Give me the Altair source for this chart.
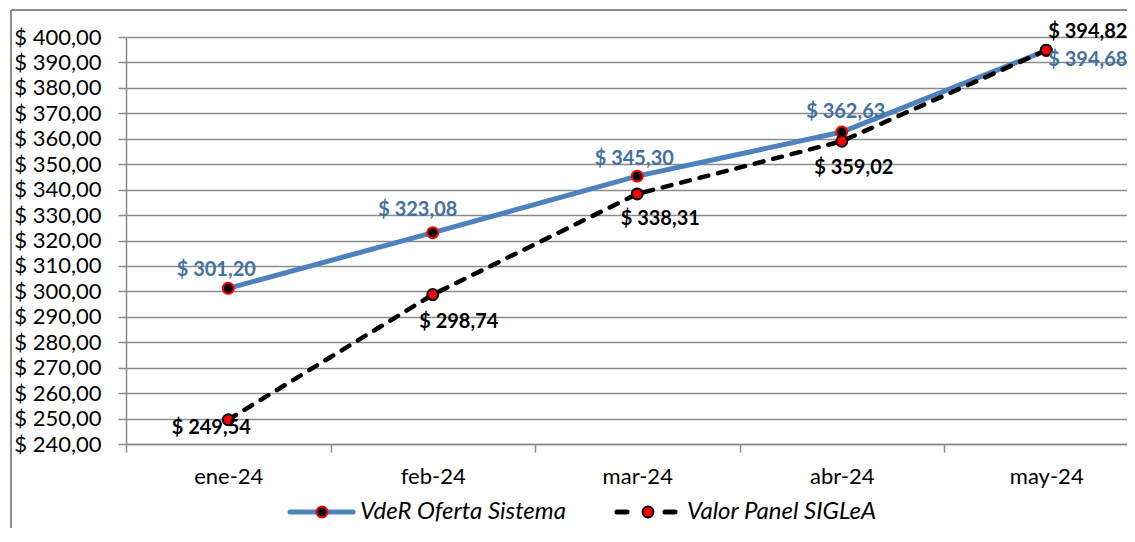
import json
import altair as alt
import pandas as pd

# ---- data ----
months = ["ene-24", "feb-24", "mar-24", "abr-24", "may-24"]
vder = [301.20, 323.08, 345.30, 362.63, 394.68]
panel = [249.54, 298.74, 338.31, 359.02, 394.82]
series_names = ["VdeR Oferta Sistema", "Valor Panel SIGLeA"]
y_ticks = list(range(240, 401, 10))

# ---- layout / style ----
W, H = 1001, 407
UNIT = 204.5
XMAX = -0.5 + W / UNIT
GRID = "#8c8c8c"
BLUE = "#4F81BD"
BLUE_TXT = "#44719F"
FONT = "Lato"

df = pd.DataFrame({"idx": list(range(len(months))), "mes": months,
                   "vder": vder, "panel": panel})

fmt = lambda f: "'$ ' + replace(format(datum.%s, '.2f'), '.', ',')" % f

xscale = alt.Scale(domain=[-0.5, XMAX], nice=False, zero=False)
yscale = alt.Scale(domain=[240, 400], nice=False, zero=False)

x_axis = alt.Axis(
    values=[i - 0.5 for i in range(len(months))],
    labelExpr=json.dumps(months) + "[round(datum.value + 0.5)]",
    labelOffset=UNIT / 2, labelFlush=False, labelOverlap=False, labelBound=False,
    grid=False, domainColor=GRID, domainWidth=1.5, tickColor=GRID, tickWidth=1.5,
    tickSize=8, labelFontSize=22, labelFont=FONT, labelColor="black",
    labelPadding=14, title=None)
y_axis = alt.Axis(
    values=y_ticks, labelExpr="'$ ' + replace(format(datum.value, '.2f'), '.', ',')",
    labelOverlap=False, labelBound=False, labelFlush=False,
    grid=True, gridColor=GRID, gridWidth=1.5, domainColor=GRID, domainWidth=1.5,
    tickColor=GRID, tickWidth=1.5, tickSize=8, labelFontSize=22, labelFont=FONT,
    labelColor="black", labelPadding=17, title=None)

base = alt.Chart(df)
X = alt.X("idx:Q", scale=xscale, axis=x_axis)
YV = alt.Y("vder:Q", scale=yscale, axis=y_axis)
YP = alt.Y("panel:Q", scale=yscale, axis=y_axis)

line_v = base.mark_line(color=BLUE, strokeWidth=5).encode(x=X, y=YV)
pts_v = base.mark_point(filled=True, shape="circle", size=120, fill="black",
                        stroke="red", strokeWidth=2, opacity=1).encode(x=X, y=YV)
line_p = base.mark_line(color="black", strokeWidth=4.5, strokeDash=[9, 10],
                        strokeCap="round").encode(x=X, y=YP)
pts_p = base.mark_point(filled=True, shape="circle", size=120, fill="red",
                        stroke="black", strokeWidth=2, opacity=1).encode(x=X, y=YP)

# label placement: (align, dx, dy) relative to each point
blue_off = [("center", -12, -18), ("center", -15, -23), ("center", -3, -17),
            ("center", 4, -20), ("left", 2, 9)]
black_off = [("center", -17, 8), ("center", 26, 27), ("center", 23, 25),
             ("center", 12, 27), ("left", 2, -18)]

labels = []
for i in range(len(months)):
    al, dx, dy = blue_off[i]
    labels.append(base.transform_filter(alt.datum.idx == i)
                  .transform_calculate(t=fmt("vder"))
                  .mark_text(font=FONT, fontSize=20, fontWeight="bold", color=BLUE_TXT,
                             align=al, baseline="middle", dx=dx, dy=dy)
                  .encode(x=X, y=YV, text="t:N"))
    al, dx, dy = black_off[i]
    labels.append(base.transform_filter(alt.datum.idx == i)
                  .transform_calculate(t=fmt("panel"))
                  .mark_text(font=FONT, fontSize=20, fontWeight="bold", color="black",
                             align=al, baseline="middle", dx=dx, dy=dy)
                  .encode(x=X, y=YP, text="t:N"))

# ---- manual legend ----
leg = alt.Chart(pd.DataFrame({"name": series_names}))
LY = 475
leg1 = leg.transform_filter(alt.datum.name == series_names[0])
leg2 = leg.transform_filter(alt.datum.name == series_names[1])
legend_layers = [
    leg1.mark_rule(color=BLUE, strokeWidth=5, strokeCap="round").encode(
        x=alt.value(164), x2=alt.value(227), y=alt.value(LY)),
    leg1.mark_point(filled=True, shape="circle", size=120, fill="black", stroke="red",
                    strokeWidth=2, opacity=1).encode(x=alt.value(196), y=alt.value(LY)),
    leg1.mark_text(font=FONT, fontSize=24, fontStyle="italic", align="left",
                   baseline="middle", color="black").encode(
        x=alt.value(234), y=alt.value(LY), text="name:N"),
    leg2.mark_rule(color="black", strokeWidth=5, strokeDash=[10, 38],
                   strokeCap="round").encode(
        x=alt.value(491), x2=alt.value(549), y=alt.value(LY)),
    leg2.mark_point(filled=True, shape="circle", size=120, fill="red", stroke="black",
                    strokeWidth=2, opacity=1).encode(x=alt.value(522), y=alt.value(LY)),
    leg2.mark_text(font=FONT, fontSize=24, fontStyle="italic", align="left",
                   baseline="middle", color="black").encode(
        x=alt.value(561), y=alt.value(LY), text="name:N"),
]

# ---- outer chart border (left and top edges visible in the crop) ----
border = [
    leg1.mark_rule(color=GRID, strokeWidth=2).encode(
        x=alt.value(-115), y=alt.value(-27), y2=alt.value(H + 84)),
    leg1.mark_rule(color=GRID, strokeWidth=2).encode(
        x=alt.value(-115), x2=alt.value(W), y=alt.value(-27)),
]

chart = alt.layer(line_v, pts_v, line_p, pts_p, *labels, *legend_layers, *border).properties(
    width=W, height=H,
    autosize=alt.AutoSizeParams(type="none"),
    padding={"left": 118, "top": 29, "right": 0, "bottom": 84},
    background="white",
).configure_view(stroke=None)

chart.save("out.html", embed_options={"renderer": "svg", "actions": False})
